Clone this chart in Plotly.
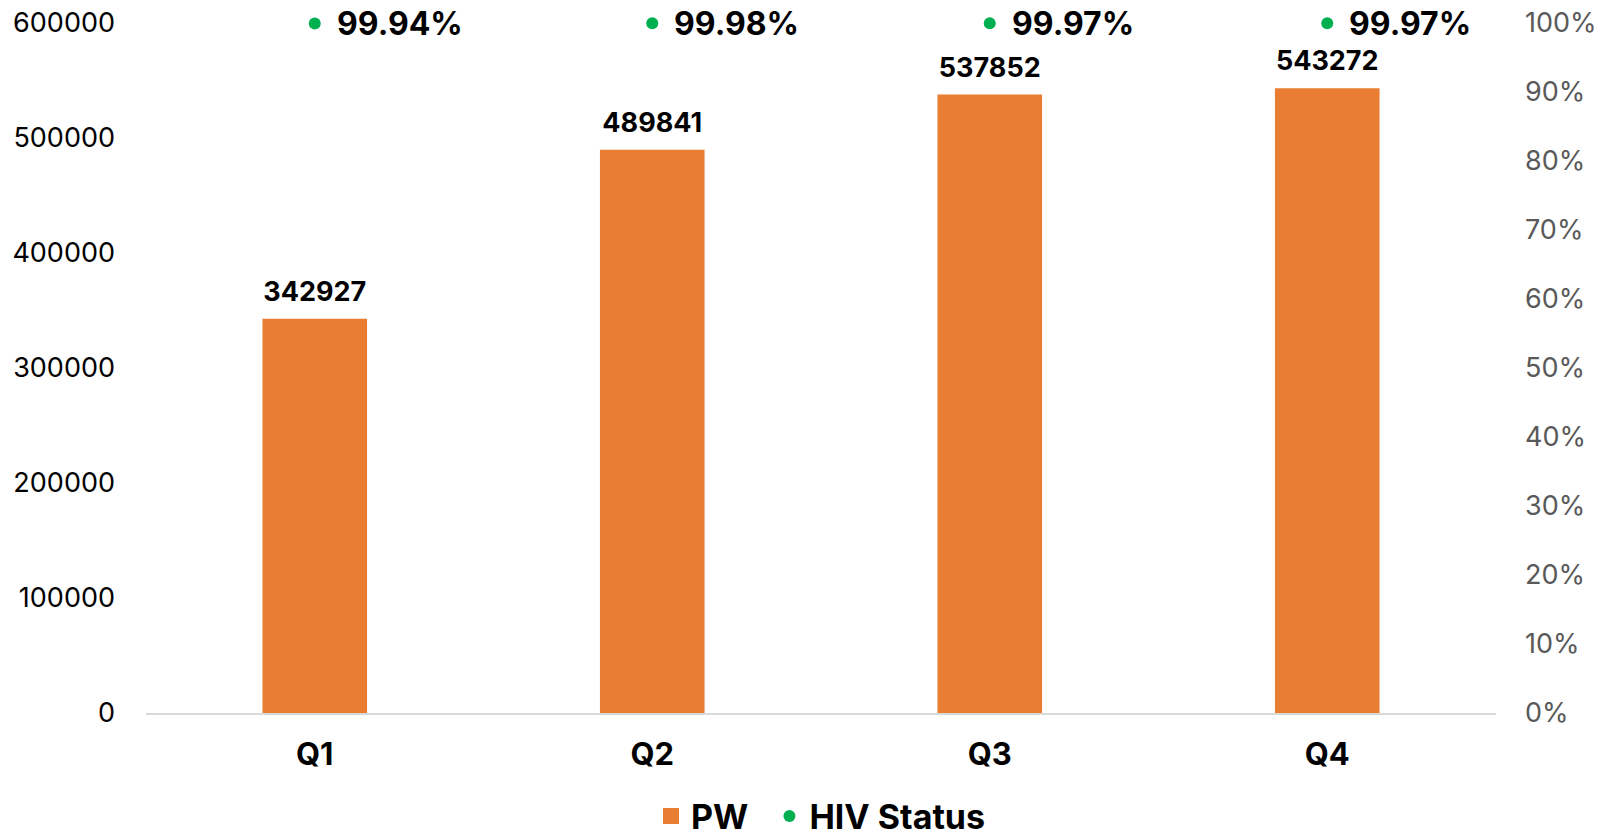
import plotly.graph_objects as go

quarters = ["Q1", "Q2", "Q3", "Q4"]
pw_counts = [342927, 489841, 537852, 543272]
hiv_status = [0.9994, 0.9998, 0.9997, 0.9997]

ORANGE = "#E97D31"
GREEN = "#00B050"
FONT = "Inter, Roboto, Arial, sans-serif"
NBSP = "\u00a0"

fig = go.Figure()

fig.add_trace(
    go.Bar(
        x=quarters,
        y=pw_counts,
        name="PW",
        marker=dict(color=ORANGE, line=dict(width=0)),
        showlegend=False,
    )
)

# data labels above bars (invisible marker pushes text up a bit)
fig.add_trace(
    go.Scatter(
        x=quarters,
        y=pw_counts,
        mode="markers+text",
        marker=dict(size=16, opacity=0),
        text=[str(v) for v in pw_counts],
        textposition="top center",
        textfont=dict(family=FONT, size=27, color="black", weight="bold"),
        cliponaxis=False,
        showlegend=False,
        hoverinfo="skip",
    )
)

# legend entry for PW with a bigger square
fig.add_trace(
    go.Scatter(
        x=[None],
        y=[None],
        mode="markers",
        name="PW" + NBSP * 2,
        marker=dict(color=ORANGE, symbol="square", size=20),
    )
)

fig.add_trace(
    go.Scatter(
        x=quarters,
        y=hiv_status,
        name="HIV Status",
        mode="markers",
        yaxis="y2",
        marker=dict(color=GREEN, size=12),
        cliponaxis=False,
    )
)

# percentage labels next to the green dots
for q, v in zip(quarters, hiv_status):
    fig.add_annotation(
        x=q,
        y=v,
        yref="y2",
        text=f"{v:.2%}",
        showarrow=False,
        xanchor="left",
        yanchor="middle",
        xshift=20,
        font=dict(family=FONT, size=32, color="black", weight="bold"),
    )

# page body has an 8px margin, so the figure is sized/offset for that
fig.update_layout(
    width=1587,
    height=827,
    plot_bgcolor="white",
    paper_bgcolor="white",
    font=dict(family=FONT, color="black"),
    bargap=0.69,
    margin=dict(l=138, r=99, t=15, b=122, autoexpand=False),
    showlegend=True,
    legend=dict(
        orientation="h",
        xanchor="center",
        x=0.5,
        yanchor="middle",
        y=-0.15,
        font=dict(family=FONT, size=34, color="black", weight="bold"),
        itemsizing="trace",
    ),
    xaxis=dict(
        showgrid=False,
        showline=True,
        linecolor="#D9D9D9",
        linewidth=2,
        ticks="",
        tickfont=dict(family=FONT, size=31, color="black", weight="bold"),
        ticklabelstandoff=13,
    ),
    yaxis=dict(
        range=[0, 600000],
        dtick=100000,
        showgrid=False,
        zeroline=False,
        showline=False,
        tickformat="d",
        tickfont=dict(family=FONT, size=27, color="black"),
        ticklabelstandoff=30,
        ticklabeloverflow="allow",
    ),
    yaxis2=dict(
        range=[0, 1],
        dtick=0.1,
        overlaying="y",
        side="right",
        showgrid=False,
        zeroline=False,
        showline=False,
        tickformat=".0%",
        tickfont=dict(family=FONT, size=27, color="#595959"),
        ticklabelstandoff=28,
        ticklabeloverflow="allow",
    ),
)

fig.write_html("out.html")
